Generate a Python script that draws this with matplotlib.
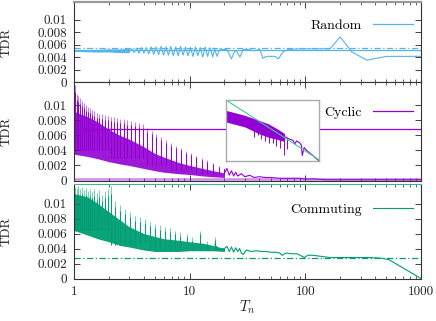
import matplotlib
matplotlib.use("Agg")
import matplotlib.pyplot as plt
from matplotlib.ticker import LogLocator, NullFormatter, FixedLocator

plt.rcParams['font.family'] = 'serif'
plt.rcParams['font.serif'] = ['cmr10', 'DejaVu Serif']
plt.rcParams['mathtext.fontset'] = 'cm'
plt.rcParams['axes.formatter.use_mathtext'] = True
plt.rcParams['axes.unicode_minus'] = False

# ---------------- data ----------------
xticks = [1, 10, 100, 1000]
xtick_labels = ["1", "10", "100", "1000"]
yticks = [0, 0.002, 0.004, 0.006, 0.008, 0.01]
ytick_labels = ["0", "0.002", "0.004", "0.006", "0.008", "0.01"]

# Random
rnd_band_x = [1.0, 1.5, 2.0, 2.5, 3.0]
rnd_band_lo = [0.0049, 0.0048, 0.0048, 0.0047, 0.0047]
rnd_band_hi = [0.0052, 0.0052, 0.0053, 0.0053, 0.0054]
rnd_x = [3.00, 3.15, 3.31, 3.47, 3.65, 3.83, 4.02, 4.22, 4.43, 4.65, 4.89, 5.13,
         5.39, 5.66, 5.94, 6.24, 6.55, 6.88, 7.22, 7.58, 7.96, 8.36, 8.78, 9.22,
         9.68, 10.16, 10.67, 11.2, 11.76, 12.35, 12.97, 13.62, 14.3, 15.0,
         15.8, 16.5, 17.2, 18.3, 19.5, 21, 23, 24.5, 25.5, 27.2, 29, 32, 36,
         40.5, 43, 46, 50, 54.7, 58.5, 64, 71, 90, 120, 163, 200, 253, 340, 505, 1000]
rnd_y = [0.0048, 0.0053, 0.0047, 0.0054, 0.0046, 0.0055, 0.0046, 0.0055, 0.0045, 0.0056,
         0.0044, 0.0056, 0.0044, 0.0057, 0.0043, 0.0056, 0.0043, 0.0057, 0.0042, 0.0056,
         0.0042, 0.0057, 0.0043, 0.0056, 0.0042, 0.0055, 0.0041, 0.0056, 0.0042, 0.0055,
         0.0040, 0.0056, 0.0041, 0.0055,
         0.0040, 0.0053, 0.0041, 0.0053, 0.0052, 0.0052, 0.0037, 0.0050, 0.0049, 0.0040,
         0.0052, 0.0052, 0.0050, 0.0052, 0.0038, 0.0041, 0.0041, 0.0041, 0.0037, 0.0048,
         0.0052, 0.0053, 0.0053, 0.0053, 0.0072, 0.0048, 0.0035, 0.0041, 0.0041]
rnd_mean = 0.0051
rnd_ref = 0.0055

# Cyclic
cyc_band_x = [1.0, 1.3, 1.6, 2.0, 2.5, 3.0, 4.0, 5.0, 6.0, 8.0, 10, 13, 16, 20]
cyc_band_hi = [0.0092, 0.0085, 0.0078, 0.0068, 0.0060, 0.0055, 0.0045, 0.0036,
               0.0031, 0.0024, 0.0020, 0.0016, 0.0013, 0.0010]
cyc_band_lo = [0.0035, 0.0032, 0.0029, 0.0025, 0.0022, 0.0020, 0.0016, 0.0013,
               0.0011, 0.0009, 0.0008, 0.0006, 0.0005, 0.0004]
cyc_spike_x = [1.03, 1.06, 1.09, 1.13, 1.17, 1.21, 1.26, 1.31, 1.37, 1.43, 1.5, 1.57,
               1.65, 1.74, 1.84, 1.95, 2.07, 2.2, 2.35, 2.5, 2.68, 2.88, 3.1, 3.35,
               3.62, 3.95, 4.3, 4.7, 5.15, 5.65, 6.2, 6.85, 7.6, 8.4, 9.3, 10.3,
               11.4, 12.7, 14.2, 15.9, 17.8, 20]
cyc_spike_top = [0.0127, 0.0115, 0.0112, 0.0110, 0.0106, 0.0103, 0.0100, 0.0098,
                 0.0096, 0.0094, 0.0092, 0.0090, 0.0089, 0.0088, 0.0087, 0.0086,
                 0.0085, 0.0084, 0.0083, 0.0082, 0.0082, 0.0080, 0.0079, 0.0078,
                 0.0077, 0.0075, 0.0070, 0.0066, 0.0062, 0.0058, 0.0054, 0.0050,
                 0.0046, 0.0043, 0.0039, 0.0036, 0.0033, 0.0030, 0.0027, 0.0023,
                 0.0019, 0.0016]
cyc_spike_bot = [0.0040] * 16 + [0.0030] * 10 + [0.0020] * 5 + [0.0014] * 5 + [0.0009] * 6
cyc_tail_x = [20, 21, 22, 23, 24, 25, 26, 28, 30, 33, 36, 40, 45, 50, 60, 70, 80,
              90, 100, 120, 150, 200, 300, 500, 1000]
cyc_tail_y = [0.0010, 0.0016, 0.0007, 0.0013, 0.0006, 0.0011, 0.0006, 0.0009, 0.0005,
              0.0007, 0.0004, 0.0005, 0.0004, 0.0004, 0.0003, 0.0003, 0.0003, 0.0003,
              0.0002, 0.0002, 0.0001, 0.0001, 0.0001, 0.0001, 0.0001]
cyc_level = 0.0069

ins_band_x = [0.0, 0.20, 0.35, 0.455, 0.56, 0.63]
ins_band_hi = [0.83, 0.75, 0.67, 0.61, 0.52, 0.45]
ins_band_lo = [0.64, 0.56, 0.45, 0.39, 0.35, 0.32]
ins_spike_x = [0.30, 0.34, 0.38, 0.42, 0.46, 0.50, 0.54, 0.58, 0.62, 0.66]
ins_spike_lo = [0.40, 0.42, 0.36, 0.33, 0.30, 0.30, 0.25, 0.22, 0.10, 0.20]
ins_spike_hi = [0.60, 0.58, 0.56, 0.54, 0.50, 0.48, 0.46, 0.44, 0.42, 0.38]
ins_tail_x = [0.63, 0.68, 0.72, 0.74, 0.76, 0.79, 0.81, 0.82, 0.84, 0.87, 0.91, 0.95, 1.0]
ins_tail_y = [0.40, 0.36, 0.34, 0.28, 0.33, 0.30, 0.26, 0.09, 0.22, 0.17, 0.12, 0.07, 0.0]
ins_fit_x = [0.0, 1.0]
ins_fit_y = [1.0, 0.02]

# Commuting
com_band_x = [1.0, 1.3, 1.6, 2.0, 2.5, 3.0, 4.0, 5.0, 6.0, 8.0, 10, 13, 16, 20]
com_band_hi = [0.0113, 0.0109, 0.0100, 0.0089, 0.0078, 0.0069, 0.0060, 0.0056,
               0.0053, 0.0051, 0.0049, 0.0047, 0.0044, 0.0040]
com_band_lo = [0.0064, 0.0058, 0.0053, 0.0049, 0.0044, 0.0042, 0.0038, 0.0036,
               0.0036, 0.0036, 0.0037, 0.0037, 0.0037, 0.0036]
com_spike_x = [1.03, 1.06, 1.09, 1.13, 1.17, 1.21, 1.26, 1.31, 1.37, 1.43, 1.5, 1.57,
               1.65, 1.74, 1.84, 1.95, 2.07, 2.26, 2.5, 2.76, 3.05, 3.37, 3.72, 4.1,
               4.54, 5.0, 5.5, 6.1, 6.76, 7.46, 8.2, 9.4, 10.5, 12.3, 14, 16.5]
com_spike_top = [0.0122, 0.0121, 0.0123, 0.0120, 0.0122, 0.0118, 0.0121, 0.0117,
                 0.0120, 0.0116, 0.0119, 0.0114, 0.0118, 0.0112, 0.0117, 0.0120,
                 0.0123, 0.0104, 0.0098, 0.0093, 0.0089, 0.0084, 0.0082, 0.0080,
                 0.0076, 0.0073, 0.0071, 0.0069, 0.0067, 0.0064, 0.0062, 0.0060,
                 0.0055, 0.0064, 0.0050, 0.0056]
com_spike_bot = [0.0065] * 16 + [0.0045] * 8 + [0.0040] * 12
com_tail_x = [16.5, 18, 20, 21, 22, 23, 24, 25, 26, 27, 28, 29, 31, 34, 38, 42, 46,
              50, 55, 60, 63, 68, 75, 85, 98, 105, 115, 130, 163, 250, 350, 460, 530, 1000]
com_tail_y = [0.0045, 0.0038, 0.0040, 0.0043, 0.0036, 0.0042, 0.0035, 0.0041, 0.0036,
              0.0040, 0.0034, 0.0032, 0.0038, 0.0036, 0.0037, 0.0036, 0.0036, 0.0035,
              0.0035, 0.0034, 0.0031, 0.0034, 0.0033, 0.0033, 0.0028, 0.0031, 0.0031,
              0.0030, 0.0028, 0.0028, 0.0028, 0.0027, 0.0025, 0.0000]
com_ref = 0.0027

# ---------------- styling ----------------
BLUE = '#56b4e9'
PURPLE = '#9400d3'
GREEN = '#009e73'
FS = 9.5
W, H = 436, 321

fig = plt.figure(figsize=(W / 100, H / 100), dpi=100)


def px_axes(top, bottom, left=74, right=421):
    return fig.add_axes([left / W, 1 - bottom / H, (right - left) / W, (bottom - top) / H])


ax1 = px_axes(2, 82)
ax2 = px_axes(82, 180.5)
ax3 = px_axes(184, 278.5)


def style(ax, ymax, show_x):
    ax.set_xscale('log')
    ax.set_xlim(1, 1000)
    ax.set_ylim(0, ymax)
    ax.xaxis.set_major_locator(FixedLocator(xticks))
    ax.xaxis.set_minor_locator(LogLocator(base=10, subs=range(2, 10)))
    ax.xaxis.set_minor_formatter(NullFormatter())
    if show_x:
        ax.set_xticklabels(xtick_labels)
    else:
        ax.set_xticklabels([])
    ax.set_yticks(yticks)
    ax.set_yticklabels(ytick_labels)
    ax.tick_params(which='both', direction='in', top=True, right=True,
                   labelsize=FS, colors='#222222', pad=5)
    ax.tick_params(which='major', length=4, width=0.6)
    ax.tick_params(which='minor', length=2, width=0.5)
    for s in ax.spines.values():
        s.set_linewidth(0.8)
        s.set_color('#333333')
    ax.set_ylabel('TDR', fontsize=FS, color='#222222')
    ax.yaxis.set_label_coords(-0.177, 0.5)


# Random panel
ax1.fill_between(rnd_band_x, rnd_band_lo, rnd_band_hi, color=BLUE, lw=0)
ax1.plot(rnd_x, rnd_y, color=BLUE, lw=0.8)
ax1.axhline(rnd_mean, color=BLUE, lw=0.9, label='Random')
ax1.axhline(rnd_ref, color=BLUE, lw=0.9, dashes=(5, 2, 1, 2))
style(ax1, 0.0128, False)
ax1.spines['top'].set_color('#999999')
ax1.spines['top'].set_linewidth(1.6)

# Cyclic panel
ax2.fill_between(cyc_band_x, cyc_band_lo, cyc_band_hi, color=PURPLE, lw=0, alpha=0.9)
ax2.vlines(cyc_spike_x, cyc_spike_bot, cyc_spike_top, color=PURPLE, lw=0.8, alpha=0.5)
ax2.vlines(cyc_spike_x, cyc_spike_bot, [v * 0.93 for v in cyc_spike_top],
           color=PURPLE, lw=0.7)
ax2.plot(cyc_tail_x, cyc_tail_y, color=PURPLE, lw=0.8)
ax2.axhline(0.00015, color=PURPLE, lw=1.8, alpha=0.45)
ax2.axhline(cyc_level, color=PURPLE, lw=0.9, label='Cyclic')
style(ax2, 0.0131, False)

# Inset
axin = fig.add_axes([226 / W, 1 - 161 / H, 93 / W, 61 / H])
axin.set_xlim(0, 1)
axin.set_ylim(0, 1)
axin.fill_between(ins_band_x, ins_band_lo, ins_band_hi, color=PURPLE, lw=0)
axin.vlines(ins_spike_x, ins_spike_lo, ins_spike_hi, color=PURPLE, lw=0.7)
axin.plot(ins_tail_x, ins_tail_y, color=PURPLE, lw=0.8)
axin.plot(ins_fit_x, ins_fit_y, color='#3cc89a', lw=0.8)
axin.set_xticks([])
axin.set_yticks([])
for s in axin.spines.values():
    s.set_color('#aaaaaa')
    s.set_linewidth(1.0)
axin.set_facecolor('white')

# Commuting panel
ax3.fill_between(com_band_x, com_band_lo, com_band_hi, color=GREEN, lw=0, alpha=0.95)
ax3.vlines(com_spike_x, com_spike_bot, com_spike_top, color=GREEN, lw=0.8, alpha=0.5)
ax3.vlines(com_spike_x, com_spike_bot, [v * 0.92 for v in com_spike_top],
           color=GREEN, lw=0.7)
ax3.plot(com_tail_x, com_tail_y, color=GREEN, lw=0.8, label='Commuting')
ax3.axhline(com_ref, color=GREEN, lw=0.9, dashes=(5, 2, 1, 2))
style(ax3, 0.0126, True)
ax3.spines['top'].set_color('#3cb88e')
ax3.set_xlabel('$T_n$', fontsize=FS + 1, color='#222222', labelpad=1)

for ax, yy in [(ax1, 0.70), (ax2, 0.687), (ax3, 0.726)]:
    ax.legend(loc='center right', bbox_to_anchor=(0.977, yy), frameon=False,
              markerfirst=False, handlelength=2.9, handletextpad=0.8,
              borderpad=0, borderaxespad=0, fontsize=FS + 0.5)

fig.savefig('out.png', dpi=100)
